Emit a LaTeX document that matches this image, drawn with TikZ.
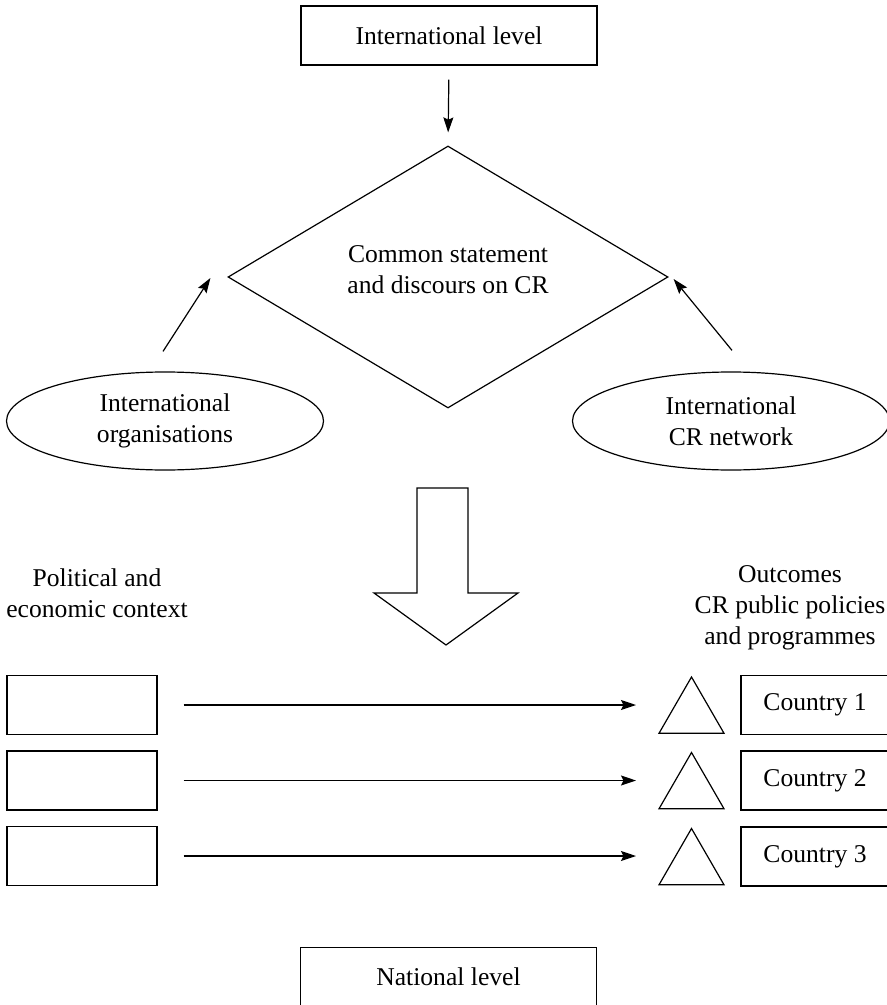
\documentclass[tikz,border=0pt]{standalone}
\usepackage{fontspec}
\setmainfont{Liberation Serif}
\usetikzlibrary{shapes,arrows.meta,positioning,calc}

\begin{document}
\begin{tikzpicture}[
    x=0.5pt, y=-0.5pt,
    line width=0.6pt,
    >={Stealth[length=7.5pt, width=5pt, inset=1.2pt]},
    font=\fontsize{12.8pt}{15.5pt}\selectfont,
    level/.style={rectangle, draw, minimum width=148pt, minimum height=29.5pt, inner sep=0pt},
    hub/.style={diamond, draw, minimum width=220pt, minimum height=131pt, inner sep=0pt},
    actor/.style={ellipse, draw, minimum width=158.5pt, minimum height=49pt, inner sep=0pt, align=center},
    context/.style={rectangle, draw, minimum width=75pt, minimum height=29.5pt, inner sep=0pt},
    outcome/.style={regular polygon, regular polygon sides=3, draw, minimum size=37.5pt, inner sep=0pt},
    country/.style={rectangle, draw, minimum width=74pt, minimum height=29.5pt, inner sep=0pt},
    caption/.style={align=center, inner sep=0pt}
]
\useasboundingbox (0,0) rectangle (887,1005);

% International level
\node[level] (intl) at (449,35.5) {International level};
\node[hub] (common) at (448,277) {};
\node[caption] (commontxt) at (448,270) {Common statement\\and discours on CR};

% Actors
\node[actor] (orgs) at (165,421) {International\\organisations};
\node[actor] (network) at (731,421) {International\\CR network};

% Big arrow down
\draw (417,488) -- (468,488) -- (468,593) -- (518,593) -- (446,645)
      -- (374,593) -- (417,593) -- cycle;

% Headings
\node[caption] (pol) at (97,593) {Political and\\economic context};
\node[caption] (outc) at (790,608) {Outcomes\\CR public policies\\and programmes};

% Context boxes
\node[context] (ctx1) at (82,705) {};
\node[context] (ctx2) at (82,780.5) {};
\node[context] (ctx3) at (82,856) {};

% Outcome triangles
\node[outcome] (tri1) at (691.5,714.5) {};
\node[outcome] (tri2) at (691.5,790) {};
\node[outcome] (tri3) at (691.5,866) {};

% Countries
\node[country] (c1) at (815,705) {Country 1};
\node[country] (c2) at (815,780.5) {Country 2};
\node[country] (c3) at (815,856.5) {Country 3};

% National level
\node[level] (natl) at (448.5,977) {National level};

% Arrows
\draw[->, shorten <=7pt, shorten >=6.5pt] (intl.south) -- (common.north);
\draw[->] ($(orgs.north)+(-2,-20)$) -- ($(common.west)+(-17,1)$);
\draw[->] ($(network.north)+(1,-21)$) -- ($(common.east)+(5,2)$);
\draw[->, shorten <=13pt, shorten >=11pt] (ctx1.east) -- (ctx1.east -| tri1.corner 2);
\draw[->, shorten <=13pt, shorten >=11pt] (ctx2.east) -- (ctx2.east -| tri2.corner 2);
\draw[->, shorten <=13pt, shorten >=11pt] (ctx3.east) -- (ctx3.east -| tri3.corner 2);

\end{tikzpicture}
\end{document}
